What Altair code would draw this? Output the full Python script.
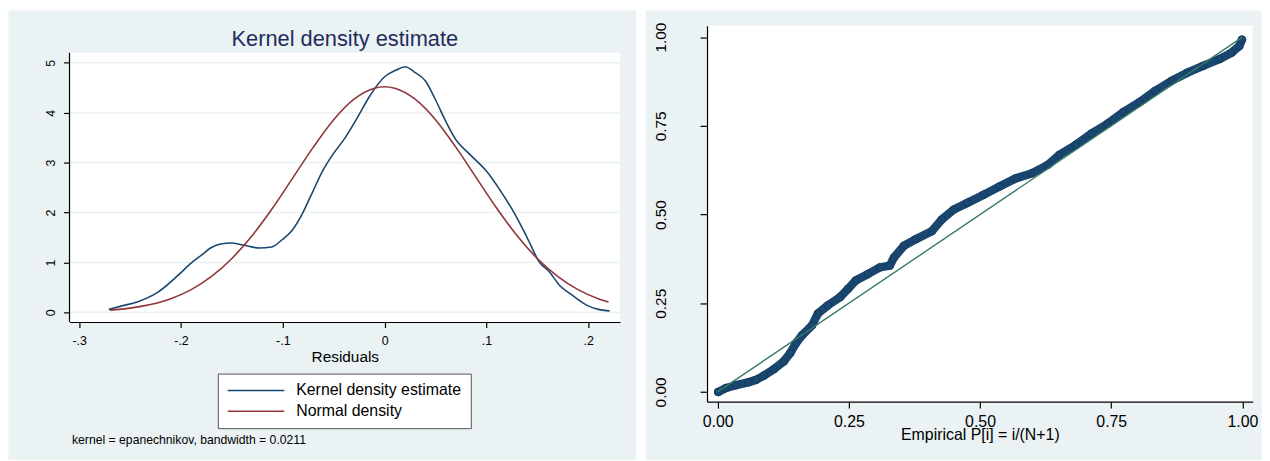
import altair as alt
import pandas as pd

# ---------------- data ----------------
SERIES = ["Kernel density estimate", "Normal density"]

KDE_X = [-0.271, -0.258, -0.243, -0.223, -0.203, -0.191, -0.179, -0.171, -0.161, -0.151,
         -0.139, -0.123, -0.111, -0.101, -0.091, -0.081, -0.071, -0.061, -0.051, -0.039,
         -0.027, -0.015, 0.000, 0.011, 0.020, 0.029, 0.040, 0.050, 0.060, 0.070,
         0.084, 0.100, 0.114, 0.128, 0.140, 0.152, 0.162, 0.172, 0.184, 0.200,
         0.210, 0.221]
KDE_Y = [0.06, 0.13, 0.21, 0.40, 0.74, 0.97, 1.16, 1.29, 1.37, 1.39,
         1.35, 1.29, 1.31, 1.45, 1.64, 1.97, 2.40, 2.83, 3.16, 3.49,
         3.89, 4.32, 4.72, 4.85, 4.92, 4.82, 4.64, 4.26, 3.83, 3.46,
         3.16, 2.83, 2.43, 1.97, 1.50, 1.01, 0.81, 0.54, 0.35, 0.13,
         0.06, 0.03]

NORM_X = [-0.27, -0.25, -0.23, -0.21, -0.19, -0.17, -0.15, -0.13, -0.11, -0.09,
          -0.07, -0.05, -0.03, -0.01, 0.00, 0.01, 0.03, 0.05, 0.07, 0.09,
          0.11, 0.13, 0.15, 0.17, 0.19, 0.21, 0.22]
NORM_Y = [0.045, 0.085, 0.157, 0.274, 0.456, 0.72, 1.08, 1.54, 2.09, 2.70,
          3.31, 3.86, 4.27, 4.49, 4.52, 4.49, 4.27, 3.86, 3.31, 2.70,
          2.09, 1.54, 1.08, 0.72, 0.456, 0.274, 0.209]

PP_X = [0.001, 0.016, 0.035, 0.058, 0.073, 0.088, 0.107, 0.126, 0.138, 0.149,
        0.161, 0.180, 0.191, 0.210, 0.233, 0.248, 0.263, 0.286, 0.309, 0.328,
        0.336, 0.355, 0.377, 0.408, 0.427, 0.450, 0.476, 0.507, 0.537, 0.568,
        0.598, 0.629, 0.651, 0.682, 0.712, 0.743, 0.773, 0.804, 0.834, 0.865,
        0.895, 0.925, 0.956, 0.979, 0.994, 0.999]
PP_Y = [0.000, 0.011, 0.019, 0.027, 0.034, 0.046, 0.064, 0.086, 0.109, 0.137,
        0.160, 0.188, 0.221, 0.244, 0.267, 0.290, 0.314, 0.332, 0.351, 0.356,
        0.379, 0.412, 0.430, 0.453, 0.486, 0.514, 0.533, 0.556, 0.579, 0.602,
        0.616, 0.640, 0.668, 0.696, 0.728, 0.756, 0.789, 0.817, 0.849, 0.877,
        0.900, 0.919, 0.938, 0.956, 0.975, 0.993]

REF_X = [0.0, 1.0]
REF_Y = [0.0, 1.0]

KDE_XTICKS = [-0.3, -0.2, -0.1, 0.0, 0.1, 0.2]
KDE_YTICKS = [0, 1, 2, 3, 4, 5]
PP_TICKS = [0.0, 0.25, 0.5, 0.75, 1.0]

TITLE = "Kernel density estimate"
NOTE = "kernel = epanechnikov, bandwidth = 0.0211"
XTITLE_L = "Residuals"
XTITLE_R = "Empirical P[i] = i/(N+1)"

# ---------------- styles ----------------
FONT = "Liberation Sans"
BG = "#eaf2f3"
NAVY = "#1a476f"
MAROON = "#90353b"
GREEN = "#357a64"
TITLE_COLOR = "#1f2d5c"

# both views start at the same top; the left white plot area begins TOP_L lower
TOP_L = 27.4
LW, LH = 555, 298.7
RW, RH = 550, 379

common_axis = dict(zindex=1, grid=False, domainColor="black", tickColor="black",
                   labelColor="black", titleColor="black", labelFont=FONT,
                   titleFont=FONT, domainWidth=1.2, tickWidth=1.2,
                   labelFlush=False, labelOverlap=False, titleFontWeight="normal")

# ---------------- left panel: kernel density ----------------
dens = pd.DataFrame({
    "x": KDE_X + NORM_X,
    "y": KDE_Y + NORM_Y,
    "series": [SERIES[0]] * len(KDE_X) + [SERIES[1]] * len(NORM_X),
})

xl = alt.X("x:Q", scale=alt.Scale(domain=[-0.30955, 0.23139], nice=False, zero=False),
           axis=alt.Axis(values=KDE_XTICKS,
                         labelExpr="datum.value == 0 ? '0' : (datum.value < 0 ? '-' : '') + '.' + format(abs(datum.value) * 10, '.0f')",
                         tickSize=5.5, labelFontSize=12.5, labelBaseline="alphabetic",
                         labelPadding=17.5, title=XTITLE_L, titleFontSize=15.5,
                         titleY=39.7, titleBaseline="alphabetic", **common_axis))
yl = alt.Y("y:Q", scale=alt.Scale(domain=[-0.193, 5.744], nice=False, zero=False),
           axis=alt.Axis(values=KDE_YTICKS, format="d", labelAngle=-90, labelAlign="center",
                         labelBaseline="alphabetic", labelPadding=9.5, tickSize=6,
                         labelFontSize=12.5, title=None, domain=False,
                         **common_axis))

one = pd.DataFrame({"k": [0]})
bg_l = alt.Chart(one).mark_rect(color=BG).encode(
    x=alt.value(-61.5), x2=alt.value(571.2), y=alt.value(-15.3), y2=alt.value(437.7))
plot_l = alt.Chart(one).mark_rect(color="white").encode(
    x=alt.value(0), x2=alt.value(LW), y=alt.value(TOP_L), y2=alt.value(LH))
yline_l = alt.Chart(one).mark_rule(color="black", strokeWidth=1.2).encode(
    x=alt.value(0), y=alt.value(TOP_L), y2=alt.value(LH))
grid_l = alt.Chart(pd.DataFrame({"y": KDE_YTICKS})).mark_rule(color=BG, strokeWidth=1.6).encode(y=yl)
lines_l = alt.Chart(dens).mark_line(strokeWidth=1.6, interpolate="monotone").encode(
    x=xl, y=yl,
    color=alt.Color("series:N",
                    scale=alt.Scale(domain=SERIES, range=[NAVY, MAROON]),
                    legend=alt.Legend(title=None, orient="none", legendX=149.5,
                                      legendY=323.3 + TOP_L,
                                      direction="vertical", symbolType="stroke",
                                      symbolSize=3249, symbolStrokeWidth=1.5,
                                      clipHeight=16, rowPadding=5, padding=9,
                                      labelOffset=11, labelFontSize=16, labelFont=FONT,
                                      labelColor="black", labelLimit=400,
                                      strokeColor="#555555", fillColor="white")))
title_l = alt.Chart(pd.DataFrame({"t": [TITLE]})).mark_text(
    align="center", baseline="alphabetic", fontSize=22, font=FONT, color=TITLE_COLOR).encode(
    x=alt.value(LW / 2), y=alt.value(TOP_L - 7.4), text="t:N")
note_l = alt.Chart(pd.DataFrame({"t": [NOTE]})).mark_text(
    align="left", baseline="alphabetic", fontSize=12.3, font=FONT, color="black").encode(
    x=alt.value(2.5), y=alt.value(TOP_L + 394.3), text="t:N")

left = alt.layer(bg_l, plot_l, grid_l, yline_l, lines_l, title_l, note_l).properties(
    width=LW, height=LH)

# ---------------- right panel: P-P plot ----------------
pp = pd.DataFrame({"x": PP_X, "y": PP_Y})
ref = pd.DataFrame({"x": REF_X, "y": REF_Y})

xr = alt.X("x:Q", scale=alt.Scale(domain=[-0.02023, 1.01947], nice=False, zero=False),
           axis=alt.Axis(values=PP_TICKS, format=".2f", tickSize=6.5, labelFontSize=16,
                         labelBaseline="alphabetic", labelPadding=18.7, title=XTITLE_R,
                         titleFontSize=16, titleY=38.5, titleBaseline="alphabetic",
                         **common_axis))
yr = alt.Y("y:Q", scale=alt.Scale(domain=[-0.0274, 1.0324], nice=False, zero=False),
           axis=alt.Axis(values=PP_TICKS, format=".2f", labelAngle=-90, labelAlign="center",
                         labelBaseline="alphabetic", labelPadding=35, tickSize=7,
                         labelFontSize=15.5, title=None, **common_axis))

bg_r = alt.Chart(one).mark_rect(color=BG).encode(
    x=alt.value(-61.7), x2=alt.value(559), y=alt.value(-15.3), y2=alt.value(437.7))
plot_r = alt.Chart(one).mark_rect(color="white").encode(
    x=alt.value(0), x2=alt.value(RW), y=alt.value(0), y2=alt.value(RH))
band_r = alt.Chart(pp).mark_line(color=NAVY, strokeWidth=8.5, strokeCap="round",
                                 strokeJoin="round").encode(x=xr, y=yr)
pts_r = alt.Chart(pp).mark_circle(color=NAVY, size=60, opacity=1,
                                  stroke="#143a5c", strokeWidth=0.8).encode(x=xr, y=yr)
ref_r = alt.Chart(ref).mark_line(color=GREEN, strokeWidth=1.4).encode(x=xr, y=yr)

right = alt.layer(bg_r, plot_r, band_r, pts_r, ref_r).properties(width=RW, height=RH)

chart = alt.hconcat(left, right, spacing=8.6, padding=0,
                    background="white").configure_view(strokeWidth=0)

chart.save("out.html", embed_options={"renderer": "svg", "actions": False})
